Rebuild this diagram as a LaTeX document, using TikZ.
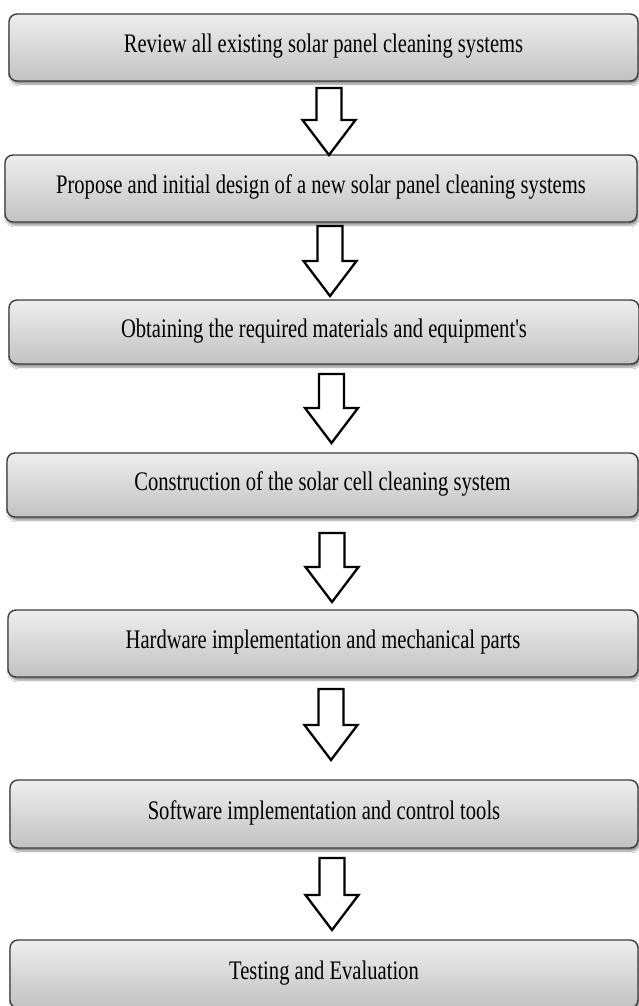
\documentclass[tikz,border=0pt]{standalone}
\usepackage{fontspec}
\setmainfont{Liberation Serif}
\usepackage{graphicx}
\usetikzlibrary{calc,shadows.blur}
\definecolor{boxtop}{HTML}{EEEEEE}
\definecolor{boxbot}{HTML}{C2C2C2}
\definecolor{boxline}{HTML}{3C3C3C}
\tikzset{
  stepbox/.style={draw=boxline, line width=1.4pt, rounded corners=8pt,
    top color=boxtop, bottom color=boxbot,
    blur shadow={shadow xshift=1.5pt, shadow yshift=-3pt, shadow blur steps=6, shadow opacity=45},
    text height=10.6pt, text depth=0pt, inner sep=0pt,
    font=\fontsize{20.6}{24}\selectfont},
  blockarrow/.style={draw=black, line width=2.3pt, fill=white, line join=miter}
}
\newcommand{\lbl}[1]{\scalebox{1}[1.3]{#1}}
\newcommand{\straightq}{{\XeTeXglyph\XeTeXglyphindex "quotesingle"\relax}}
\newcommand{\blockarrow}[2]{%
  \draw[blockarrow] let \p1=(#1), \p2=(#2) in
    (\x1-12.5pt,\y1) -- (\x1+12.5pt,\y1) -- (\x1+12.5pt,\y2+35pt) --
    (\x1+26.5pt,\y2+35pt) -- (\x2,\y2) -- (\x1-26.5pt,\y2+35pt) --
    (\x1-12.5pt,\y2+35pt) -- cycle;}
\begin{document}
\begin{tikzpicture}[x=1pt,y=-1pt]
\useasboundingbox[fill=white] (0,0) rectangle (639,1006);
\node[stepbox, minimum width=629pt, minimum height=67pt] (b1) at (323.5,47.5)
  {\lbl{Review all existing solar panel cleaning systems}};
\node[stepbox, minimum width=632pt, minimum height=67pt] (b2) at (321,188.5)
  {\lbl{Propose and initial design of a new solar panel cleaning systems}};
\node[stepbox, minimum width=630pt, minimum height=64pt] (b3) at (324,332)
  {\lbl{Obtaining the required materials and equipment\straightq s}};
\node[stepbox, minimum width=631pt, minimum height=64pt] (b4) at (322.5,485)
  {\lbl{Construction of the solar cell cleaning system}};
\node[stepbox, minimum width=630pt, minimum height=67pt] (b5) at (323,643.5)
  {\lbl{Hardware implementation and mechanical parts}};
\node[stepbox, minimum width=628pt, minimum height=68pt] (b6) at (324,814)
  {\lbl{Software implementation and control tools}};
\node[stepbox, minimum width=628pt, minimum height=68pt] (b7) at (324,974)
  {\lbl{Testing and Evaluation}};
\coordinate (t1) at (329,88);  \coordinate (h1) at (329,155);
\coordinate (t2) at (330,226); \coordinate (h2) at (330,296);
\coordinate (t3) at (331.5,374); \coordinate (h3) at (331.5,443);
\coordinate (t4) at (332,533); \coordinate (h4) at (332,602);
\coordinate (t5) at (331,689); \coordinate (h5) at (331,760);
\coordinate (t6) at (332,858); \coordinate (h6) at (332,930);
\blockarrow{t1}{h1}
\blockarrow{t2}{h2}
\blockarrow{t3}{h3}
\blockarrow{t4}{h4}
\blockarrow{t5}{h5}
\blockarrow{t6}{h6}
\end{tikzpicture}
\end{document}
